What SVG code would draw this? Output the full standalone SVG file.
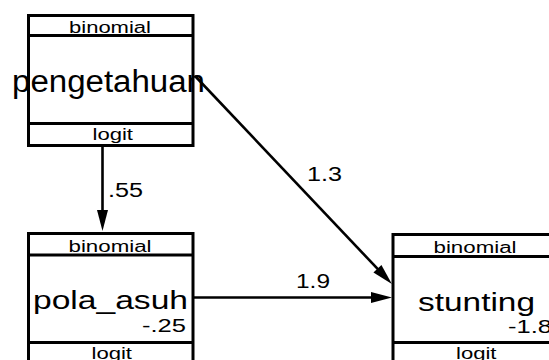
<svg xmlns="http://www.w3.org/2000/svg" width="549" height="360" viewBox="0 0 549 360">
  <defs>
    <style>
      .box { fill: #ffffff; stroke: #000000; stroke-width: 3; }
      .div { stroke: #000000; stroke-width: 3; }
      .edge { stroke: #000000; stroke-width: 2.6; fill: none; marker-end: url(#arrow); }
      text { font-family: "Liberation Sans", Arial, sans-serif; fill: #000000; }
      .small { font-size: 16px; }
      .name { font-size: 26px; }
      .coef { font-size: 18px; }
      .lbl { font-size: 19.5px; }
    </style>
    <marker id="arrow" markerUnits="userSpaceOnUse" markerWidth="22" markerHeight="12" viewBox="0 0 21 12" refX="11" refY="6" orient="auto">
      <path d="M0,0.5 L21,6 L0,11.5 z" fill="#000000"/>
    </marker>
  </defs>
  <rect width="549" height="360" fill="#ffffff"/>

  <!-- connectors -->
  <g id="connectors">
    <line class="edge" x1="102.5" y1="146" x2="102.5" y2="221"/>
    <line class="edge" x1="195" y1="76" x2="385" y2="276.7"/>
    <line class="edge" x1="194" y1="297.5" x2="382" y2="297.5"/>
    <text class="lbl" x="108" y="197" textLength="35" lengthAdjust="spacingAndGlyphs">.55</text>
    <text class="lbl" x="307" y="181" textLength="35" lengthAdjust="spacingAndGlyphs">1.3</text>
    <text class="lbl" x="296" y="288" textLength="34" lengthAdjust="spacingAndGlyphs">1.9</text>
  </g>

  <!-- pengetahuan -->
  <g id="pengetahuan">
    <rect class="box" x="28.5" y="15.5" width="164.5" height="130"/>
    <line class="div" x1="28.5" y1="35.5" x2="193" y2="35.5"/>
    <line class="div" x1="28.5" y1="123.5" x2="193" y2="123.5"/>
    <text class="small" x="69" y="32.5" textLength="82" lengthAdjust="spacingAndGlyphs">binomial</text>
    <text x="12" y="92" font-size="31" textLength="193" lengthAdjust="spacingAndGlyphs">pengetahuan</text>
    <text class="small" x="92.5" y="139.5" textLength="40.5" lengthAdjust="spacingAndGlyphs">logit</text>
  </g>

  <!-- pola_asuh -->
  <g id="pola_asuh">
    <rect class="box" x="28.5" y="233.5" width="164.5" height="130"/>
    <line class="div" x1="28.5" y1="255" x2="193" y2="255"/>
    <line class="div" x1="28.5" y1="342.5" x2="193" y2="342.5"/>
    <text class="small" x="68.5" y="252" textLength="83" lengthAdjust="spacingAndGlyphs">binomial</text>
    <text class="name" x="33" y="309" textLength="155" lengthAdjust="spacingAndGlyphs">pola_asuh</text>
    <text class="coef" x="142" y="332" textLength="44" lengthAdjust="spacingAndGlyphs">-.25</text>
    <text class="small" x="91.5" y="358.5" textLength="40.5" lengthAdjust="spacingAndGlyphs">logit</text>
  </g>

  <!-- stunting -->
  <g id="stunting">
    <rect class="box" x="393" y="234.5" width="164.5" height="130"/>
    <line class="div" x1="393" y1="256.5" x2="557.5" y2="256.5"/>
    <line class="div" x1="393" y1="342.5" x2="557.5" y2="342.5"/>
    <text class="small" x="433.5" y="253" textLength="83" lengthAdjust="spacingAndGlyphs">binomial</text>
    <text class="name" x="418" y="311" textLength="117" lengthAdjust="spacingAndGlyphs">stunting</text>
    <text class="coef" x="508" y="333" textLength="44" lengthAdjust="spacingAndGlyphs">-1.8</text>
    <text class="small" x="456" y="359" textLength="40.5" lengthAdjust="spacingAndGlyphs">logit</text>
  </g>
</svg>
